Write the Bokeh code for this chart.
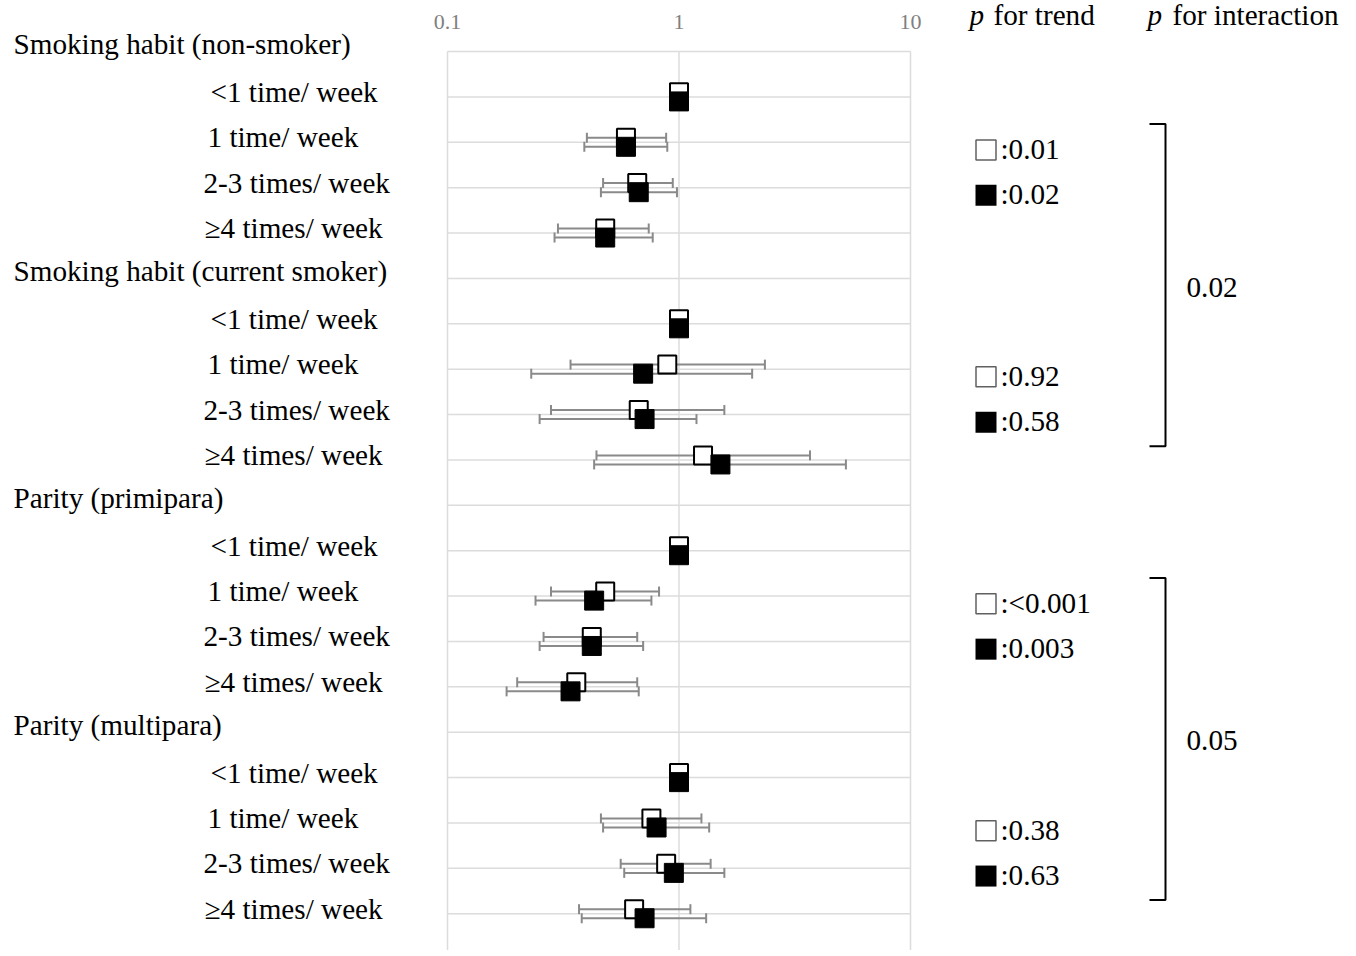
from bokeh.plotting import figure
from bokeh.models import Range1d, FixedTicker, LogAxis, LogScale
from bokeh.core.properties import value
from bokeh.embed import file_html
from bokeh.resources import INLINE

# ---------------- data ----------------
groups = ["Smoking habit (non-smoker)", "Smoking habit (current smoker)",
          "Parity (primipara)", "Parity (multipara)"]
levels = ["<1 time/ week", "1 time/ week", "2-3 times/ week", "\u22654 times/ week"]

# open squares (estimate, 95% CI)
open_or = [1.0, 0.59, 0.66, 0.48,   1.0, 0.89, 0.67, 1.27,
           1.0, 0.48, 0.42, 0.36,   1.0, 0.76, 0.88, 0.64]
open_lo = [1.0, 0.40, 0.47, 0.30,   1.0, 0.34, 0.28, 0.44,
           1.0, 0.28, 0.26, 0.20,   1.0, 0.46, 0.56, 0.37]
open_hi = [1.0, 0.88, 0.94, 0.74,   1.0, 2.35, 1.57, 3.68,
           1.0, 0.82, 0.66, 0.66,   1.0, 1.25, 1.37, 1.12]
# filled squares
fill_or = [1.0, 0.59, 0.67, 0.48,   1.0, 0.70, 0.71, 1.51,
           1.0, 0.43, 0.42, 0.34,   1.0, 0.80, 0.95, 0.71]
fill_lo = [1.0, 0.39, 0.46, 0.29,   1.0, 0.23, 0.25, 0.43,
           1.0, 0.24, 0.25, 0.18,   1.0, 0.47, 0.58, 0.38]
fill_hi = [1.0, 0.89, 0.98, 0.77,   1.0, 2.07, 1.19, 5.26,
           1.0, 0.76, 0.70, 0.67,   1.0, 1.35, 1.57, 1.31]

p_trend_open = ["0.01", "0.92", "<0.001", "0.38"]
p_trend_fill = ["0.02", "0.58", "0.003", "0.63"]
p_interaction = ["0.02", "0.05"]

x_ticks = [0.1, 1, 10]
x_tick_labels = ["0.1", "1", "10"]

# ---------------- layout constants ----------------
FONT = "Liberation Serif"
FS = "29.2px"
GRAY = "#8a8a8a"
GRID = "#dcdcdc"
W, H = 1340, 950
TOP = 51          # pixel row of the frame top line
ROW = 45.38       # pixels per row
DEC = 231.5       # pixels per decade
X01 = 447         # pixel of OR = 0.1
LEVEL_X = [210, 207, 203, 204]   # left edge of each level label (pixels)

per_group = len(levels) + 1
n_rows = len(groups) * per_group
header_k = [g * per_group for g in range(len(groups))]
item_k, item_labels, item_x = [], [], []
for g in range(len(groups)):
    for j in range(len(levels)):
        item_k.append(g * per_group + 1 + j)
        item_labels.append(levels[j])
        item_x.append(LEVEL_X[j])

k_bottom = (H - TOP) / ROW
p = figure(width=W, height=H, x_range=Range1d(0, W),
           y_range=Range1d(start=k_bottom, end=-TOP / ROW),
           x_axis_location=None, y_axis_location=None, min_border=0,
           toolbar_location=None, output_backend="svg")
p.grid.visible = False
p.outline_line_color = None
p.background_fill_color = "white"
p.border_fill_color = "white"

L0 = -1 - X01 / DEC
L1 = L0 + W / DEC
p.extra_x_ranges = {"or": Range1d(10 ** L0, 10 ** L1)}
p.extra_x_scales = {"or": LogScale()}

ax = LogAxis(x_range_name="or", fixed_location=0,
             ticker=FixedTicker(ticks=x_ticks, minor_ticks=[]),
             major_label_overrides={t: l for t, l in zip(x_ticks, x_tick_labels)})
ax.axis_line_color = None
ax.major_tick_line_color = None
ax.minor_tick_line_color = None
ax.major_tick_out = 0
ax.major_tick_in = 0
ax.major_label_text_font = FONT
ax.major_label_text_font_size = "22px"
ax.major_label_text_color = "#808080"
ax.major_label_standoff = 23
p.add_layout(ax, "above")

# grid lines of the forest panel
rows_k = list(range(n_rows))
p.segment(x0=min(x_ticks), x1=max(x_ticks), y0=rows_k, y1=rows_k,
          x_range_name="or", line_color=GRID, line_width=1.5)
p.segment(x0=x_ticks, x1=x_ticks, y0=0, y1=k_bottom + 1,
          x_range_name="or", line_color=GRID, line_width=1.5)

DY = 0.1
CAP = 0.11
y_open = [k - DY for k in item_k]
y_fill = [k + DY for k in item_k]

def bars(ys, lo, hi):
    p.segment(x0=lo, y0=ys, x1=hi, y1=ys, x_range_name="or", line_color=GRAY, line_width=2)
    for ends in (lo, hi):
        p.segment(x0=ends, y0=[y - CAP for y in ys], x1=ends, y1=[y + CAP for y in ys],
                  x_range_name="or", line_color=GRAY, line_width=2)

bars(y_open, open_lo, open_hi)
bars(y_fill, fill_lo, fill_hi)
p.scatter(x=open_or, y=y_open, x_range_name="or", marker="square", size=18,
          fill_color="white", line_color="black", line_width=2)
p.scatter(x=fill_or, y=y_fill, x_range_name="or", marker="square", size=19,
          fill_color="black", line_color="black", line_width=1)

# ---------------- row labels ----------------
p.text(x=13, y=[k - 0.16 for k in header_k], text=groups, text_font=value(FONT),
       text_font_size=FS, text_baseline="alphabetic", text_align="left", text_color="black")
p.text(x=item_x, y=[k - 0.11 for k in item_k], text=item_labels, text_font=value(FONT),
       text_font_size=FS, text_baseline="alphabetic", text_align="left", text_color="black")

# ---------------- p values ----------------
hy = -0.815
p.text(x=[969, 1147], y=[hy, hy], text=["p", "p"], text_font=value(FONT),
       text_font_size=FS, text_font_style="italic", text_baseline="alphabetic")
p.text(x=[993, 1172], y=[hy, hy], text=["for trend", "for interaction"],
       text_font=value(FONT), text_font_size=FS, text_baseline="alphabetic")

trend_open_k = [g * per_group + 2 for g in range(len(groups))]
trend_fill_k = [g * per_group + 3 for g in range(len(groups))]
p.scatter(x=985.5, y=[k + 0.17 for k in trend_open_k], marker="square", size=20,
          fill_color="white", line_color="#606060", line_width=1.5)
p.scatter(x=985.5, y=[k + 0.17 for k in trend_fill_k], marker="square", size=21,
          fill_color="black", line_color=None)
p.text(x=1000, y=[k + 0.15 for k in trend_open_k], text=[":" + s for s in p_trend_open],
       text_font=value(FONT), text_font_size=FS, text_baseline="alphabetic")
p.text(x=1000, y=[k + 0.15 for k in trend_fill_k], text=[":" + s for s in p_trend_fill],
       text_font=value(FONT), text_font_size=FS, text_baseline="alphabetic")

bx, by, int_y = [], [], []
for i in range(len(p_interaction)):
    top = trend_open_k[2 * i] - 0.40
    bot = trend_fill_k[2 * i + 1] + 0.70
    bx.append([1149, 1165, 1165, 1149])
    by.append([top, top, bot, bot])
    int_y.append((top + bot) / 2 + 0.04)
p.multi_line(xs=bx, ys=by, line_color="black", line_width=2)
p.text(x=1186, y=int_y, text=p_interaction, text_font=value(FONT), text_font_size=FS,
       text_baseline="alphabetic")

open("out.html", "w").write(file_html(p, INLINE))
